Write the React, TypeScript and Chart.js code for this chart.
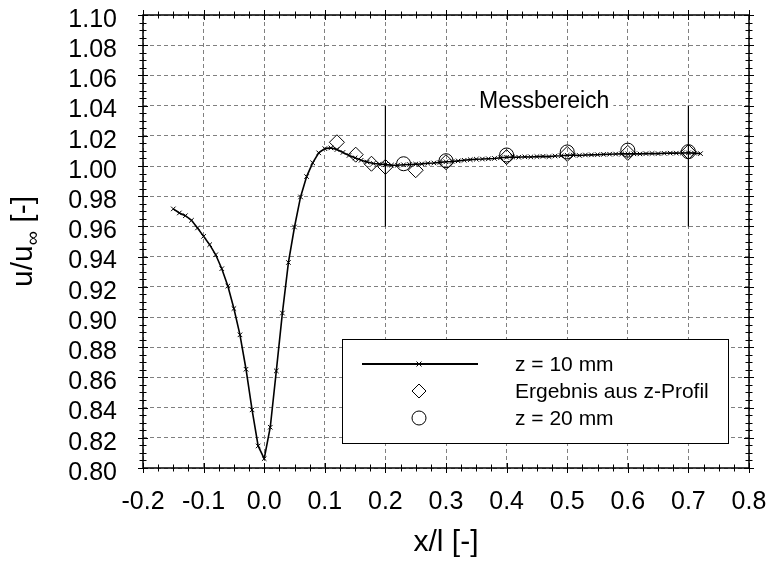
import React, { useEffect, useRef } from "react";
import { Chart, registerables } from "chart.js";

Chart.register(...registerables);

// ---- data ----
const xZ10 = [
  -0.15, -0.14, -0.13, -0.12, -0.11, -0.1, -0.09, -0.08, -0.07, -0.06, -0.05, -0.04, -0.03, -0.02, -0.01,
  0.0, 0.01, 0.02, 0.03, 0.04, 0.05, 0.06, 0.07, 0.08, 0.09,
  0.1, 0.11, 0.12, 0.13, 0.14, 0.15, 0.16, 0.17, 0.18, 0.19,
  0.2, 0.21, 0.22, 0.23, 0.24, 0.25, 0.26, 0.27, 0.28, 0.29,
  0.3, 0.31, 0.32, 0.33, 0.34, 0.35, 0.36, 0.37, 0.38, 0.39,
  0.4, 0.41, 0.42, 0.43, 0.44, 0.45, 0.46, 0.47, 0.48, 0.49,
  0.5, 0.51, 0.52, 0.53, 0.54, 0.55, 0.56, 0.57, 0.58, 0.59,
  0.6, 0.61, 0.62, 0.63, 0.64, 0.65, 0.66, 0.67, 0.68, 0.69,
  0.7, 0.71, 0.72,
];
const uZ10 = [
  0.9716, 0.9689, 0.9671, 0.964, 0.959, 0.9534, 0.9479, 0.9412, 0.932, 0.9205, 0.9056, 0.8882, 0.8654, 0.8385, 0.8146,
  0.8062, 0.827, 0.8643, 0.9026, 0.9361, 0.9596, 0.9795, 0.993, 1.0021, 1.0087,
  1.0115, 1.012, 1.0109, 1.009, 1.007, 1.0054, 1.0038, 1.0026, 1.0017, 1.0013,
  1.0009, 1.0006, 1.0005, 1.0008, 1.001, 1.0012, 1.0014, 1.0018, 1.002, 1.0024,
  1.0028, 1.003, 1.0034, 1.0038, 1.0042, 1.0045, 1.0046, 1.0048, 1.005, 1.0055,
  1.0058, 1.006, 1.0058, 1.0061, 1.006, 1.0062, 1.0064, 1.0062, 1.0066, 1.0068,
  1.0071, 1.0072, 1.007, 1.0073, 1.0074, 1.0075, 1.0077, 1.0078, 1.0079, 1.008,
  1.008, 1.0081, 1.008, 1.0082, 1.0083, 1.0082, 1.0084, 1.0085, 1.0085, 1.0086,
  1.0087, 1.0085, 1.0082,
];
const xProfile = [0.12, 0.151, 0.177, 0.2, 0.25, 0.3, 0.4, 0.5, 0.6, 0.7];
const uProfile = [1.0157, 1.0075, 1.0015, 0.9994, 0.9972, 1.0025, 1.0059, 1.008, 1.0087, 1.0093];
const xZ20 = [0.23, 0.3, 0.4, 0.5, 0.6, 0.7];
const uZ20 = [1.0015, 1.0035, 1.0073, 1.0093, 1.0105, 1.0095];
const measureX = [0.2, 0.7];
const measureRange = [0.96, 1.04];
const measureLabel = "Messbereich";
const measureLabelPos = [0.462, 1.0425];
const legendLabels = ["z = 10 mm", "Ergebnis aus z-Profil", "z = 20 mm"];
const xTitle = "x/l [-]";
const yTitleParts = ["u/u", "\u221E", " [-]"];
const xMin = -0.2, xMax = 0.8, xStep = 0.1;
const yMin = 0.8, yMax = 1.1, yStep = 0.02;

const FONT = '"Liberation Sans", Arial, sans-serif';

function pts(xs: number[], ys: number[]) {
  return xs.map((x, i) => ({ x, y: ys[i] }));
}

export default function App() {
  const ref = useRef<HTMLCanvasElement>(null);

  useEffect(() => {
    const canvas = ref.current!;

    const bg = {
      id: "bg",
      beforeDraw(chart: any) {
        const ctx = chart.ctx;
        ctx.save();
        ctx.fillStyle = "#fff";
        ctx.fillRect(0, 0, chart.width, chart.height);
        ctx.restore();
      },
    };

    const overlay = {
      id: "overlay",
      afterDatasetsDraw(chart: any) {
        const ctx = chart.ctx as CanvasRenderingContext2D;
        const a = chart.chartArea;
        const xs = chart.scales.x;
        const ys = chart.scales.y;
        ctx.save();
        // frame
        ctx.strokeStyle = "#000";
        ctx.lineWidth = 1.5;
        ctx.strokeRect(a.left, a.top, a.right - a.left, a.bottom - a.top);
        // ticks on all sides
        ctx.lineWidth = 1;
        ctx.beginPath();
        const nx = Math.round((xMax - xMin) / 0.025);
        for (let i = 0; i <= nx; i++) {
          const v = xMin + i * 0.025;
          const px = Math.round(xs.getPixelForValue(v)) + 0.5;
          const len = i % 4 === 0 ? 5 : 3.5;
          ctx.moveTo(px, a.bottom - len);
          ctx.lineTo(px, a.bottom + len);
          ctx.moveTo(px, a.top - len);
          ctx.lineTo(px, a.top + len);
        }
        const ny = Math.round((yMax - yMin) / 0.005);
        for (let i = 0; i <= ny; i++) {
          const v = yMin + i * 0.005;
          const py = Math.round(ys.getPixelForValue(v)) + 0.5;
          const len = i % 4 === 0 ? 5 : 3.5;
          ctx.moveTo(a.left - len, py);
          ctx.lineTo(a.left + len, py);
          ctx.moveTo(a.right - len, py);
          ctx.lineTo(a.right + len, py);
        }
        ctx.stroke();

        // Messbereich label
        ctx.font = `23px ${FONT}`;
        const tw = ctx.measureText(measureLabel).width;
        const lx = xs.getPixelForValue(measureLabelPos[0]);
        const ly = ys.getPixelForValue(measureLabelPos[1]);
        ctx.fillStyle = "#fff";
        ctx.fillRect(lx - tw / 2 - 4, ly - 13, tw + 8, 26);
        ctx.fillStyle = "#000";
        ctx.textAlign = "center";
        ctx.textBaseline = "middle";
        ctx.fillText(measureLabel, lx, ly);

        // legend
        const L = 342.5, T = 339.5, R = 728.5, B = 443.5;
        ctx.fillStyle = "#fff";
        ctx.fillRect(L, T, R - L, B - T);
        ctx.strokeStyle = "#000";
        ctx.lineWidth = 1;
        ctx.strokeRect(L, T, R - L, B - T);
        const rows = [364, 391, 418];
        const mx = 419;
        ctx.lineWidth = 2;
        ctx.beginPath();
        ctx.moveTo(362, rows[0]);
        ctx.lineTo(478, rows[0]);
        ctx.stroke();
        ctx.lineWidth = 1;
        ctx.beginPath();
        ctx.moveTo(mx - 2.5, rows[0] - 2.5);
        ctx.lineTo(mx + 2.5, rows[0] + 2.5);
        ctx.moveTo(mx + 2.5, rows[0] - 2.5);
        ctx.lineTo(mx - 2.5, rows[0] + 2.5);
        ctx.stroke();
        ctx.beginPath();
        ctx.moveTo(mx - 7, rows[1]);
        ctx.lineTo(mx, rows[1] - 7);
        ctx.lineTo(mx + 7, rows[1]);
        ctx.lineTo(mx, rows[1] + 7);
        ctx.closePath();
        ctx.stroke();
        ctx.beginPath();
        ctx.arc(mx, rows[2], 7, 0, Math.PI * 2);
        ctx.stroke();
        ctx.fillStyle = "#000";
        ctx.font = `21px ${FONT}`;
        ctx.textAlign = "left";
        ctx.textBaseline = "middle";
        legendLabels.forEach((t, i) => ctx.fillText(t, 515, rows[i] + 1));

        // axis titles
        ctx.font = `30px ${FONT}`;
        ctx.textAlign = "center";
        ctx.textBaseline = "middle";
        ctx.fillText(xTitle, (a.left + a.right) / 2, 543);

        ctx.translate(22, (a.top + a.bottom) / 2);
        ctx.rotate(-Math.PI / 2);
        ctx.textAlign = "left";
        ctx.textBaseline = "alphabetic";
        const mainF = `30px ${FONT}`;
        const subF = `20px ${FONT}`;
        ctx.font = mainF;
        const w0 = ctx.measureText(yTitleParts[0]).width;
        const w2 = ctx.measureText(yTitleParts[2]).width;
        ctx.font = subF;
        const w1 = ctx.measureText(yTitleParts[1]).width;
        let x0 = -(w0 + w1 + w2) / 2;
        const base = 10;
        ctx.font = mainF;
        ctx.fillText(yTitleParts[0], x0, base);
        x0 += w0;
        ctx.font = subF;
        ctx.fillText(yTitleParts[1], x0, base + 7);
        x0 += w1;
        ctx.font = mainF;
        ctx.fillText(yTitleParts[2], x0, base);
        ctx.restore();
      },
    };

    const datasets: any[] = [
      {
        label: legendLabels[0],
        data: pts(xZ10, uZ10),
        showLine: true,
        borderColor: "#000",
        borderWidth: 1.6,
        pointStyle: "crossRot",
        pointRadius: 3.2,
        pointBorderWidth: 1,
        pointBorderColor: "#000",
        pointBackgroundColor: "transparent",
        backgroundColor: "transparent",
      },
      {
        label: legendLabels[1],
        data: pts(xProfile, uProfile),
        showLine: false,
        pointStyle: "rectRot",
        pointRadius: 7.5,
        pointBorderWidth: 1,
        pointBorderColor: "#000",
        pointBackgroundColor: "transparent",
      },
      {
        label: legendLabels[2],
        data: pts(xZ20, uZ20),
        showLine: false,
        pointStyle: "circle",
        pointRadius: 7,
        pointBorderWidth: 1,
        pointBorderColor: "#000",
        pointBackgroundColor: "transparent",
      },
      ...measureX.map((mx) => ({
        label: measureLabel,
        data: measureRange.map((y) => ({ x: mx, y })),
        showLine: true,
        borderColor: "#000",
        borderWidth: 1.2,
        pointRadius: 0,
      })),
    ];

    const chart = new Chart(canvas, {
      type: "scatter",
      data: { datasets },
      options: {
        responsive: false,
        animation: false,
        devicePixelRatio: 1,
        layout: { padding: { top: 15, right: 19, left: 0, bottom: 0 } },
        plugins: { legend: { display: false }, tooltip: { enabled: false } },
        scales: {
          x: {
            type: "linear",
            min: xMin,
            max: xMax,
            afterFit: (s: any) => {
              s.height = 95;
              s.paddingLeft = 0;
              s.paddingRight = 0;
            },
            ticks: {
              stepSize: xStep,
              autoSkip: false,
              maxRotation: 0,
              padding: 19,
              color: "#000",
              font: { family: FONT, size: 25 },
              callback: (v: any) => Number(v).toFixed(1),
            },
            grid: { color: "#808080", lineWidth: 1, drawTicks: false },
            border: { display: false, dash: [4, 3] },
          },
          y: {
            type: "linear",
            min: yMin,
            max: yMax,
            afterFit: (s: any) => {
              s.width = 143;
              s.paddingTop = 0;
              s.paddingBottom = 0;
            },
            ticks: {
              stepSize: yStep,
              maxTicksLimit: 100,
              autoSkip: false,
              padding: 26,
              labelOffset: 5,
              color: "#000",
              font: { family: FONT, size: 25 },
              callback: (v: any) => Number(v).toFixed(2),
            },
            grid: { color: "#808080", lineWidth: 1, drawTicks: false },
            border: { display: false, dash: [4, 3] },
          },
        },
      },
      plugins: [bg, overlay],
    });

    return () => chart.destroy();
  }, []);

  return (
    <div style={{ position: "fixed", left: 0, top: 0, width: 768, height: 563, background: "#fff" }}>
      <canvas ref={ref} width={768} height={563} style={{ display: "block", width: 768, height: 563 }} />
    </div>
  );
}
